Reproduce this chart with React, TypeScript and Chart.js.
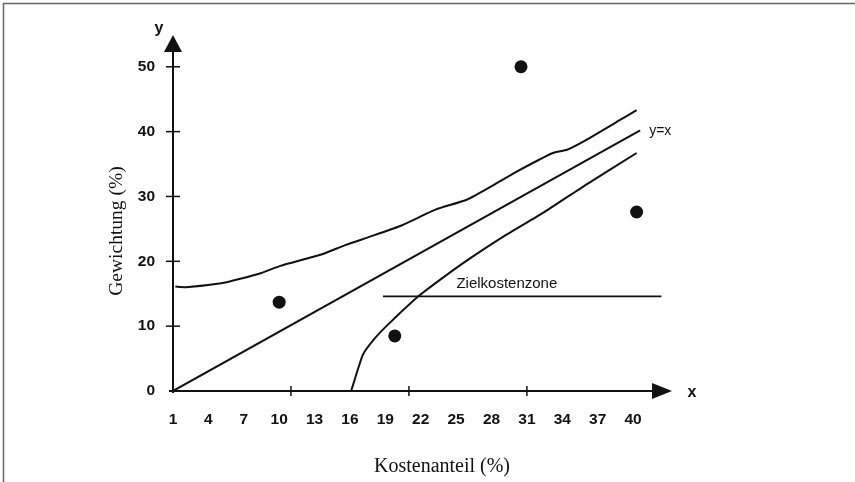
import React, { useEffect, useRef } from "react";
import { Chart, registerables } from "chart.js";

Chart.register(...registerables);

// ---- data ----
const xTickLabels = [1, 4, 7, 10, 13, 16, 19, 22, 25, 28, 31, 34, 37, 40];
const yTickLabels = [0, 10, 20, 30, 40, 50];
const xTickMarks = [11, 21, 31];
const yTickMarks = [10, 20, 30, 40, 50];

const upperX = [1.2, 2.1, 5.1, 6.7, 8.5, 10.1, 13.5, 15.6, 17.7, 20.2, 23.3, 25.9, 28.4, 30.1, 33.2, 34.4, 36.0, 38.9, 40.3];
const upperY = [16.1, 16.0, 16.6, 17.3, 18.2, 19.3, 21.0, 22.5, 23.8, 25.4, 28.0, 29.5, 32.0, 33.8, 36.7, 37.2, 38.7, 41.8, 43.3];

const identX = [1, 40.6];
const identY = [0, 40.2];

const lowerX = [16.1, 17.1, 18.1, 19.2, 21.8, 23.6, 25.9, 29.0, 32.4, 36.0, 40.3];
const lowerY = [0, 5.6, 8.1, 10.2, 14.6, 17.1, 20.1, 23.8, 27.5, 31.8, 36.7];

const zoneX = [18.8, 42.4];
const zoneY = [14.6, 14.6];

const pointX = [10.0, 19.8, 30.5, 40.3];
const pointY = [13.7, 8.5, 50.0, 27.6];

const identLabel = "y=x";
const zoneLabel = "Zielkostenzone";
const zoneLabelX = 29.3;
const xTitle = "Kostenanteil (%)";
const yTitle = "Gewichtung (%)";

const toXY = (xs: number[], ys: number[]) => xs.map((x, i) => ({ x, y: ys[i] }));

const INK = "#111";

const decorPlugin = {
  id: "decor",
  afterDraw(chart: any) {
    const ctx = chart.ctx as CanvasRenderingContext2D;
    const xs = chart.scales.x;
    const ys = chart.scales.y;
    const ca = chart.chartArea;
    const x0 = xs.getPixelForValue(1);
    const y0 = ys.getPixelForValue(0);
    ctx.save();
    ctx.strokeStyle = INK;
    ctx.fillStyle = INK;
    ctx.lineWidth = 2;
    // y axis + arrow
    ctx.beginPath();
    ctx.moveTo(x0, y0 + 2);
    ctx.lineTo(x0, ca.top + 16);
    ctx.stroke();
    ctx.beginPath();
    ctx.moveTo(x0 - 9, ca.top + 17);
    ctx.lineTo(x0 + 9, ca.top + 17);
    ctx.lineTo(x0, ca.top);
    ctx.closePath();
    ctx.fill();
    // x axis + arrow
    ctx.beginPath();
    ctx.moveTo(x0 - 4, y0);
    ctx.lineTo(ca.right - 19, y0);
    ctx.stroke();
    ctx.beginPath();
    ctx.moveTo(ca.right - 20, y0 - 8);
    ctx.lineTo(ca.right - 20, y0 + 8);
    ctx.lineTo(ca.right, y0);
    ctx.closePath();
    ctx.fill();
    // tick marks
    ctx.lineWidth = 1.5;
    for (const v of yTickMarks) {
      const p = ys.getPixelForValue(v);
      ctx.beginPath();
      ctx.moveTo(x0 - 7, p);
      ctx.lineTo(x0 + 7, p);
      ctx.stroke();
    }
    for (const v of xTickMarks) {
      const p = xs.getPixelForValue(v);
      ctx.beginPath();
      ctx.moveTo(p, y0 - 5);
      ctx.lineTo(p, y0 + 5);
      ctx.stroke();
    }
    // axis letters
    ctx.font = "bold 16px 'Liberation Sans', Arial, sans-serif";
    ctx.textAlign = "center";
    ctx.textBaseline = "middle";
    ctx.fillText("x", ca.right + 20, y0 + 2);
    ctx.fillText("y", x0 - 14, ca.top - 6);
    // series labels
    ctx.font = "14px 'Liberation Sans', Arial, sans-serif";
    ctx.textAlign = "left";
    ctx.fillText(identLabel, xs.getPixelForValue(identX[1]) + 9, ys.getPixelForValue(identY[1]) + 1);
    ctx.font = "15px 'Liberation Sans', Arial, sans-serif";
    ctx.textAlign = "center";
    ctx.textBaseline = "alphabetic";
    ctx.fillText(zoneLabel, xs.getPixelForValue(zoneLabelX), ys.getPixelForValue(zoneY[0]) - 8);
    // titles
    ctx.font = "20px 'Liberation Serif', 'Times New Roman', serif";
    ctx.textAlign = "center";
    ctx.textBaseline = "middle";
    ctx.fillText(xTitle, 442, 467);
    ctx.save();
    ctx.translate(117, 231);
    ctx.rotate(-Math.PI / 2);
    ctx.font = "19.5px 'Liberation Serif', 'Times New Roman', serif";
    ctx.fillText(yTitle, 0, 0);
    ctx.restore();
    // frame
    ctx.strokeStyle = "#666";
    ctx.lineWidth = 1.5;
    ctx.beginPath();
    ctx.moveTo(3.5, 482);
    ctx.lineTo(3.5, 3.5);
    ctx.lineTo(855, 3.5);
    ctx.stroke();
    ctx.restore();
  },
};

export default function App() {
  const ref = useRef<HTMLCanvasElement | null>(null);
  useEffect(() => {
    if (!ref.current) return;
    const lineDs = (data: any[]) => ({
      data,
      showLine: true,
      borderColor: INK,
      borderWidth: 2,
      pointRadius: 0,
      tension: 0.15,
      fill: false,
    });
    const chart = new Chart(ref.current, {
      type: "scatter",
      data: {
        datasets: [
          lineDs(toXY(upperX, upperY)),
          { ...lineDs(toXY(identX, identY)), tension: 0 },
          lineDs(toXY(lowerX, lowerY)),
          { ...lineDs(toXY(zoneX, zoneY)), tension: 0, borderWidth: 1.8 },
          {
            data: toXY(pointX, pointY),
            showLine: false,
            pointRadius: 6.5,
            pointBackgroundColor: INK,
            pointBorderColor: INK,
            pointBorderWidth: 0,
          },
        ] as any,
      },
      options: {
        responsive: false,
        animation: false,
        devicePixelRatio: 1,
        layout: { padding: { left: 0, top: 35, right: 183, bottom: 0 } },
        plugins: { legend: { display: false }, tooltip: { enabled: false }, title: { display: false } },
        scales: {
          x: {
            type: "linear",
            min: 1,
            max: 43.3,
            grid: { display: false },
            border: { display: false },
            afterBuildTicks: (s: any) => {
              s.ticks = xTickLabels.map((v) => ({ value: v }));
            },
            afterFit: (s: any) => {
              s.height = 91;
            },
            ticks: {
              autoSkip: false,
              maxRotation: 0,
              padding: 11,
              color: INK,
              font: { family: "'Liberation Sans', Arial, sans-serif", size: 15.5, weight: "bold" },
            },
          },
          y: {
            type: "linear",
            min: 0,
            max: 54.9,
            grid: { display: false },
            border: { display: false },
            afterBuildTicks: (s: any) => {
              s.ticks = yTickLabels.map((v) => ({ value: v }));
            },
            afterFit: (s: any) => {
              s.width = 173;
            },
            ticks: {
              padding: 18 - 8,
              color: INK,
              font: { family: "'Liberation Sans', Arial, sans-serif", size: 15.5, weight: "bold" },
            },
          },
        },
      } as any,
      plugins: [decorPlugin],
    });
    return () => chart.destroy();
  }, []);
  return (
    <div style={{ position: "fixed", left: 0, top: 0, width: 855, height: 482, background: "#fff" }}>
      <canvas ref={ref} width={855} height={482} style={{ display: "block", width: 855, height: 482 }} />
    </div>
  );
}
